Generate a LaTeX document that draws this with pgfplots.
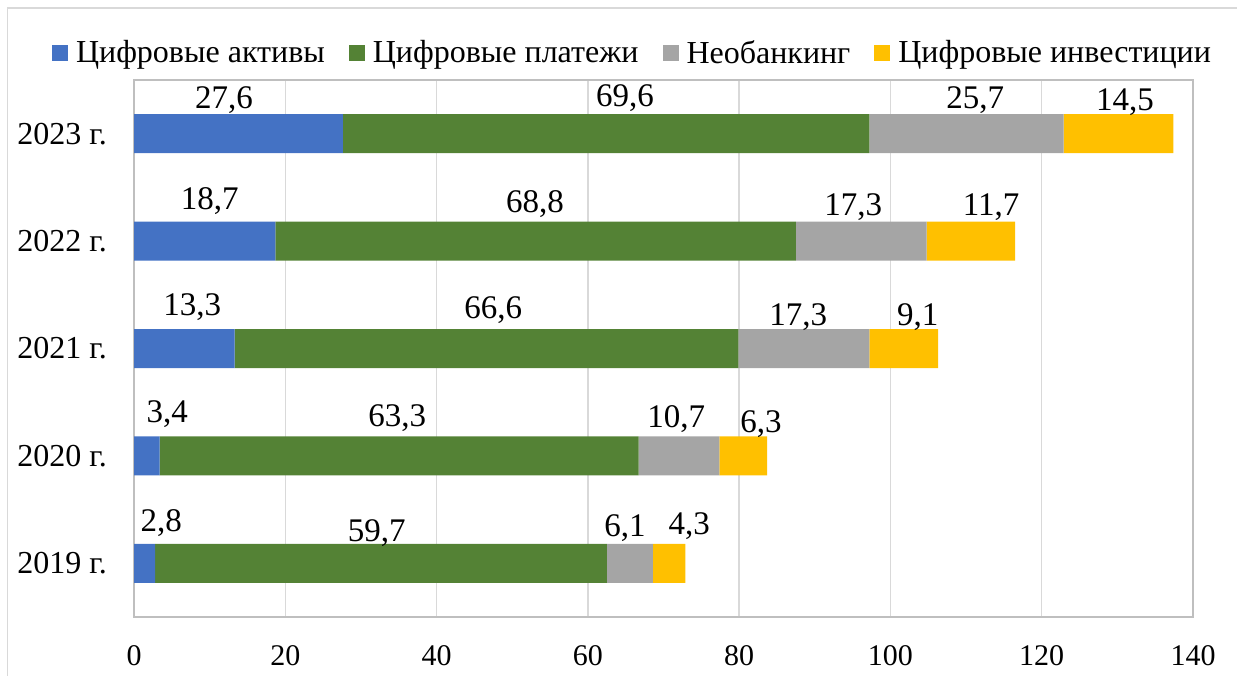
\documentclass[border=0pt]{standalone}
\usepackage{pgfplots}
\pgfplotsset{compat=1.18}
\usepackage{fontspec}
\setmainfont{Liberation Serif}
\definecolor{cA}{HTML}{4472C4}
\definecolor{cB}{HTML}{548235}
\definecolor{cC}{HTML}{A5A5A5}
\definecolor{cD}{HTML}{FFC000}
\definecolor{gridgray}{HTML}{D9D9D9}
\definecolor{axisgray}{HTML}{BFBFBF}
\begin{document}
\begin{tikzpicture}
\useasboundingbox (0,0) rectangle (618.5pt,337.5pt);
\draw[gridgray, line width=0.75pt] (3.75pt,-5pt) -- (3.75pt,333.5pt) -- (630pt,333.5pt);
\begin{axis}[
  at={(67pt,29pt)}, anchor=south west,
  width=529.5pt, height=268.5pt, scale only axis,
  xbar stacked, bar width=19.5pt,
  xmin=0, xmax=140, ymin=-0.5, ymax=4.5,
  xtick={0,20,...,140},
  ytick={0,1,2,3,4},
  yticklabels={2019 г.,2020 г.,2021 г.,2022 г.,2023 г.},
  xmajorgrids, ymajorgrids=false,
  grid style={gridgray, line width=0.75pt},
  axis line style={axisgray, line width=0.75pt},
  tick style={draw=none}, major tick length=0pt,
  /pgf/number format/assume math mode=true,
  xticklabel style={font=\fontsize{15}{18}\selectfont, yshift=-10.5pt},
  yticklabel style={font=\fontsize{16}{19}\selectfont, xshift=-10pt},
  legend columns=4,
  legend style={draw=none, fill=none, at={(0.4717,1.05)}, anchor=center,
    font=\fontsize{16}{19}\selectfont,
    /tikz/every even column/.append style={column sep=10pt}},
  legend image code/.code={\fill[#1] (0pt,-4pt) rectangle (8pt,4pt); \path (10pt,0pt);},
]
\addplot[fill=cA, draw=none] coordinates {(2.8,0) (3.4,1) (13.3,2) (18.7,3) (27.6,4)};
\addlegendentry{Цифровые активы}
\addplot[fill=cB, draw=none] coordinates {(59.7,0) (63.3,1) (66.6,2) (68.8,3) (69.6,4)};
\addlegendentry{Цифровые платежи}
\addplot[fill=cC, draw=none] coordinates {(6.1,0) (10.7,1) (17.3,2) (17.3,3) (25.7,4)};
\addlegendentry{Необанкинг}
\addplot[fill=cD, draw=none] coordinates {(4.3,0) (6.3,1) (9.1,2) (11.7,3) (14.5,4)};
\addlegendentry{Цифровые инвестиции}
\end{axis}
\begin{axis}[
  at={(67pt,29pt)}, anchor=south west,
  width=529.5pt, height=268.5pt, scale only axis,
  xmin=0, xmax=140, ymin=-0.5, ymax=4.5,
  hide axis, clip=false,
]
\addplot[draw=none, mark=none, nodes near coords, point meta=explicit symbolic,
  nodes near coords style={anchor=base, inner sep=0pt, font=\fontsize{16.5}{19}\selectfont}]
  table[x=x, y=y, meta=lab] {
x y lab
11.9 4.237 27,6
64.9 4.256 69,6
111.2 4.237 25,7
131.0 4.219 14,5
10.0 3.298 18,7
53.0 3.270 68,8
95.1 3.242 17,3
113.3 3.242 11,7
7.7 2.307 13,3
47.5 2.279 66,6
87.8 2.214 17,3
103.6 2.214 9,1
4.4 1.307 3,4
34.8 1.270 63,3
71.7 1.260 10,7
82.9 1.214 6,3
3.6 0.293 2,8
32.1 0.200 59,7
64.9 0.247 6,1
73.4 0.265 4,3
};
\end{axis}
\end{tikzpicture}
\end{document}
